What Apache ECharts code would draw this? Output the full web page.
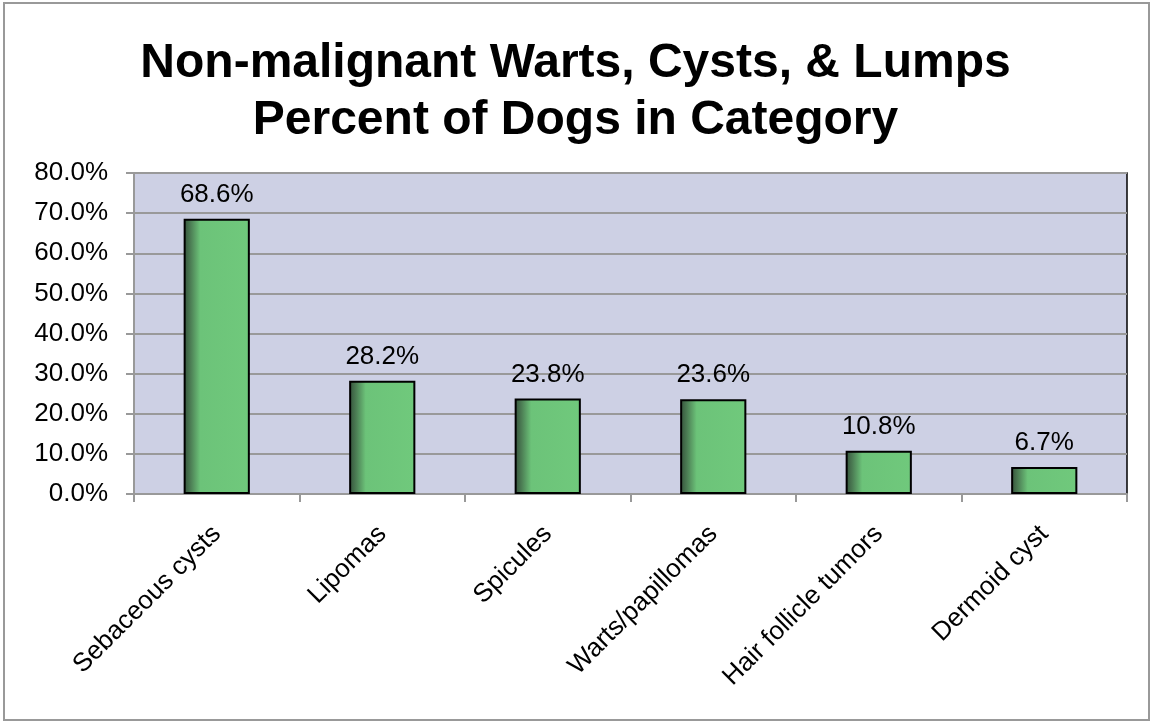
<!DOCTYPE html>
<html>
<head>
<meta charset="utf-8">
<script src="https://cdn.jsdelivr.net/npm/echarts@6/dist/echarts.min.js"></script>
<style>
  html, body { margin: 0; padding: 0; background: #fff; }
  #chart { width: 1151px; height: 723px; }
</style>
</head>
<body>
<div id="chart"></div>
<script>
  // categories and values
  var categories = ['Sebaceous cysts', 'Lipomas', 'Spicules', 'Warts/papillomas', 'Hair follicle tumors', 'Dermoid cyst'];
  var percents = [68.6, 28.2, 23.8, 23.6, 10.8, 6.7];
  var titleLines = ['Non-malignant Warts, Cysts, & Lumps', 'Percent of Dogs in Category'];

  var chart = echarts.init(document.getElementById('chart'));
  var font = 'Liberation Sans, Arial, sans-serif';

  var option = {
    backgroundColor: '#ffffff',
    animation: false,
    graphic: [{
      type: 'rect',
      shape: { x: 4, y: 3, width: 1145, height: 717 },
      style: { fill: 'none', stroke: '#999999', lineWidth: 2 },
      silent: true
    }],
    title: {
      text: titleLines.join('\n'),
      left: 'center',
      top: 30,
      textStyle: {
        fontFamily: font,
        fontSize: 48,
        fontWeight: 'bold',
        color: '#000',
        lineHeight: 57
      }
    },
    grid: {
      left: 134,
      right: 24,
      top: 173,
      bottom: 229,
      show: true,
      backgroundColor: '#cdd0e4',
      borderColor: '#000',
      borderWidth: 1.5
    },
    xAxis: {
      type: 'category',
      data: categories,
      axisLine: { lineStyle: { color: '#999999', width: 2 } },
      axisTick: { show: true, alignWithLabel: false, length: 8, lineStyle: { color: '#999999', width: 2 } },
      axisLabel: {
        rotate: 45,
        interval: 0,
        margin: 36,
        fontFamily: font,
        fontSize: 26,
        color: '#000'
      }
    },
    yAxis: {
      type: 'value',
      min: 0,
      max: 80,
      interval: 10,
      axisLine: { show: true, lineStyle: { color: '#999999', width: 2 } },
      axisTick: { show: true, length: 8, lineStyle: { color: '#999999', width: 2 } },
      splitLine: { lineStyle: { color: '#999999', width: 2 } },
      axisLabel: {
        margin: 26,
        fontFamily: font,
        fontSize: 26,
        color: '#000',
        formatter: function (v) { return v.toFixed(1) + '%'; }
      }
    },
    series: [{
      type: 'bar',
      data: percents,
      barWidth: '40%',
      itemStyle: {
        color: new echarts.graphic.LinearGradient(0, 0, 1, 0, [
          { offset: 0, color: '#34503a' },
          { offset: 0.1, color: '#4b7b53' },
          { offset: 0.25, color: '#6cc379' },
          { offset: 1, color: '#70c97c' }
        ]),
        borderColor: '#000',
        borderWidth: 2
      },
      label: {
        show: true,
        position: 'top',
        distance: 11,
        fontFamily: font,
        fontSize: 26,
        color: '#000',
        formatter: function (p) { return p.value.toFixed(1) + '%'; }
      }
    }]
  };

  chart.setOption(option);
</script>
</body>
</html>
